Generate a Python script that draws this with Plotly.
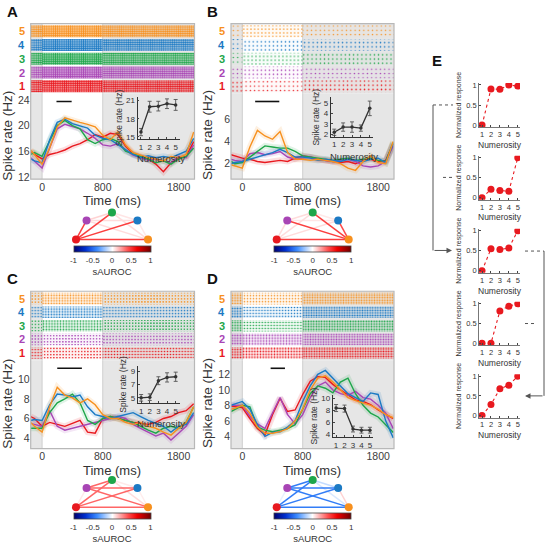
import numpy as np
import plotly.graph_objects as go
from plotly.colors import sample_colorscale, hex_to_rgb

W, H = 550, 545
FONT = "Arial, Liberation Sans, sans-serif"

# ---- data -------------------------------------------------------------
numerosity = [1, 2, 3, 4, 5]
num_colors = ["#e8191f", "#a845b5", "#1ea64a", "#1c7ac4", "#f7901e"]

time_ms = [-150, -100, 0, 100, 200, 300, 400, 500, 600, 700, 800, 900,
           1000, 1100, 1200, 1300, 1400, 1500, 1600, 1700, 1800, 1900, 2000]

# spike rate (Hz) per numerosity 1..5
rate_A = [
    [16.0, 15.5, 14.8, 15.5, 15.8, 16.2, 16.8, 17.2, 17.8, 18.6, 18.2, 18.8, 18.6, 16.8, 15.6, 15.2, 14.8, 14.0, 12.8, 14.2, 15.0, 15.2, 17.5],
    [15.0, 14.5, 13.4, 16.5, 19.5, 20.2, 19.8, 19.5, 18.8, 18.0, 17.0, 16.8, 17.2, 16.2, 15.4, 15.0, 14.6, 14.8, 14.5, 14.2, 15.2, 15.0, 17.0],
    [15.5, 15.8, 15.2, 17.5, 20.0, 20.8, 20.0, 19.5, 17.8, 17.2, 17.8, 18.0, 17.5, 16.0, 15.6, 15.2, 14.8, 14.2, 14.5, 14.0, 14.8, 15.2, 16.5],
    [14.8, 14.5, 14.2, 17.8, 20.5, 21.0, 20.3, 20.0, 19.6, 18.5, 18.0, 17.8, 17.0, 16.2, 15.5, 15.0, 15.3, 15.0, 15.2, 15.0, 15.5, 16.0, 18.0],
    [16.2, 15.5, 14.0, 16.5, 19.8, 21.2, 20.8, 20.5, 20.2, 19.8, 18.5, 17.8, 19.0, 17.0, 15.8, 15.4, 15.0, 14.8, 14.5, 15.2, 15.0, 15.5, 19.0],
]
rate_B = [
    [2.8, 2.7, 2.5, 2.4, 2.2, 2.1, 2.2, 2.3, 2.2, 2.5, 2.7, 2.6, 2.4, 2.3, 2.2, 2.1, 2.2, 2.0, 2.3, 2.4, 2.2, 2.3, 3.8],
    [2.4, 2.3, 2.2, 2.9, 3.0, 2.8, 2.9, 3.1, 2.6, 2.4, 2.5, 2.6, 2.4, 2.3, 2.2, 2.3, 2.4, 2.2, 1.8, 1.7, 1.8, 2.2, 3.6],
    [2.2, 2.0, 2.1, 2.6, 3.1, 3.6, 3.5, 3.4, 3.4, 3.1, 2.7, 2.6, 2.5, 2.4, 2.3, 2.4, 2.5, 2.3, 2.4, 2.5, 2.3, 2.2, 3.9],
    [2.0, 2.1, 2.2, 2.4, 2.6, 2.8, 3.0, 3.3, 3.0, 2.6, 2.6, 2.5, 2.3, 2.4, 2.3, 2.2, 2.4, 2.3, 2.2, 2.4, 2.5, 2.1, 3.8],
    [1.9, 1.8, 1.6, 3.5, 5.0, 4.5, 4.2, 4.9, 3.0, 2.4, 2.4, 2.3, 2.4, 2.3, 2.2, 2.0, 1.6, 1.4, 2.2, 2.7, 2.1, 2.0, 4.0],
]
rate_C = [
    [6.2, 6.0, 5.2, 5.6, 5.4, 5.2, 5.5, 5.8, 4.6, 4.5, 6.0, 6.2, 6.0, 5.8, 5.6, 5.5, 5.4, 5.6, 6.0, 6.2, 6.6, 6.8, 7.5],
    [5.5, 5.4, 5.2, 6.8, 5.2, 4.8, 5.0, 5.2, 5.4, 5.6, 5.8, 6.0, 6.2, 6.0, 5.4, 5.0, 4.6, 4.2, 4.5, 3.8, 4.5, 5.2, 6.4],
    [5.0, 5.0, 5.0, 6.6, 7.6, 8.0, 8.5, 7.6, 5.8, 5.4, 6.0, 6.2, 6.0, 5.8, 5.6, 5.2, 4.8, 4.5, 5.0, 5.2, 5.0, 5.6, 7.2],
    [5.8, 5.9, 5.8, 7.4, 8.5, 8.4, 8.2, 8.4, 7.2, 6.4, 6.2, 6.0, 6.2, 6.4, 6.6, 6.2, 5.8, 5.5, 5.2, 4.6, 5.2, 5.4, 6.6],
    [5.6, 5.2, 4.6, 7.2, 9.2, 8.4, 8.1, 7.6, 8.0, 7.4, 6.4, 6.0, 6.0, 5.6, 5.4, 5.6, 5.2, 5.0, 4.6, 4.3, 5.0, 5.6, 7.2],
]
rate_D = [
    [7.9, 7.8, 7.7, 6.3, 5.0, 4.2, 6.8, 8.9, 7.2, 7.4, 9.4, 11.1, 11.7, 11.6, 10.7, 10.0, 9.4, 8.7, 8.5, 8.1, 7.4, 6.8, 6.3],
    [8.0, 8.0, 8.0, 6.6, 5.6, 5.0, 7.0, 9.0, 6.8, 5.6, 6.8, 9.0, 10.5, 11.0, 10.0, 9.5, 9.3, 9.8, 9.0, 8.8, 8.0, 7.0, 5.0],
    [7.2, 7.5, 8.0, 7.8, 5.2, 4.8, 4.6, 4.8, 5.0, 5.5, 7.5, 9.5, 10.5, 10.2, 9.6, 11.0, 11.5, 9.5, 8.0, 7.0, 6.5, 5.5, 4.5],
    [8.0, 8.2, 8.5, 7.5, 5.5, 4.0, 4.5, 4.6, 5.2, 6.0, 8.5, 10.5, 12.0, 12.5, 11.5, 10.5, 9.5, 9.0, 8.5, 9.6, 9.4, 6.0, 3.8],
    [7.5, 7.6, 8.0, 7.0, 5.2, 4.4, 4.4, 4.6, 5.0, 6.0, 7.5, 10.0, 11.5, 11.8, 11.0, 10.0, 9.0, 8.6, 8.3, 8.0, 7.5, 6.8, 6.4],
]

# inset tuning curves (mean, error) in Hz
tuning_A = [15.8, 20.0, 20.1, 20.5, 20.3]
tuning_err_A = [0.6, 0.9, 0.8, 0.8, 0.9]
tuning_B = [2.2, 2.7, 2.7, 2.6, 4.5]
tuning_err_B = [0.3, 0.4, 0.5, 0.3, 0.7]
tuning_C = [5.0, 5.1, 7.6, 8.1, 8.2]
tuning_err_C = [0.5, 0.5, 0.6, 0.7, 0.7]
tuning_D = [8.4, 8.3, 4.8, 4.6, 4.6]
tuning_err_D = [0.6, 0.6, 0.5, 0.5, 0.5]

# significance windows (ms)
window_A = [190, 390]
window_B = [170, 490]
window_C = [200, 525]
window_D = [375, 565]

# sAUROC between numerosity pairs
pairs = [(0, 1), (0, 2), (0, 3), (0, 4), (1, 2), (1, 3), (1, 4), (2, 3), (2, 4), (3, 4)]
sauroc_A = [0.45, 0.45, 0.45, 0.45, 0.10, 0.08, 0.08, 0.06, 0.08, 0.05]
sauroc_B = [0.08, 0.08, 0.08, 0.45, 0.08, 0.06, 0.45, 0.05, 0.45, 0.42]
sauroc_C = [0.05, 0.35, 0.35, 0.35, 0.35, 0.35, 0.35, 0.05, 0.08, 0.04]
sauroc_D = [-0.05, -0.45, -0.45, -0.45, -0.45, -0.45, -0.45, -0.12, -0.08, 0.1]

# panel E normalized responses
norm_resp = [
    [0, 0.90, 0.89, 1.00, 0.97],
    [0, 0.21, 0.18, 0.16, 1.00],
    [0, 0.55, 0.53, 0.57, 1.00],
    [0, 0.00, 0.82, 0.94, 1.00],
    [0, 0.28, 0.68, 0.77, 1.00],
]

cmap = [[0, "#000070"], [0.15, "#0030d0"], [0.3, "#3c8cff"], [0.5, "#ffffff"],
        [0.7, "#ff5050"], [0.82, "#ee0000"], [1, "#700000"]]

GRAY_BG = "#e6e6e6"
T_LO, T_HI = -150, 2010

# ---- helpers ----------------------------------------------------------
layout = dict(width=W, height=H, margin=dict(l=0, r=0, t=0, b=0),
              paper_bgcolor="white", plot_bgcolor="rgba(0,0,0,0)",
              showlegend=False, barmode="overlay",
              font=dict(family=FONT, color="#333"))
shapes, annotations, traces = [], [], []
n_ax = [0]


def px(x):
    return x / W


def py(y):
    return 1 - y / H


def new_axes(xpx, ypx, xkw, ykw):
    n_ax[0] += 1
    s = "" if n_ax[0] == 1 else str(n_ax[0])
    base = dict(showgrid=False, zeroline=False)
    layout["xaxis" + s] = dict(base, domain=[px(xpx[0]), px(xpx[1])], anchor="y" + s, **xkw)
    layout["yaxis" + s] = dict(base, domain=[py(ypx[1]), py(ypx[0])], anchor="x" + s, **ykw)
    return "x" + s, "y" + s


def text(x, y, s, size, color="#222", **kw):
    annotations.append(dict(x=px(x), y=py(y), xref="paper", yref="paper", text=s,
                            showarrow=False, xanchor="center", yanchor="middle",
                            font=dict(size=size, family=FONT, color=color), **kw))


def rgba(hx, a):
    r, g, b = hex_to_rgb(hx)
    return f"rgba({r},{g},{b},{a:.3f})"


def shade(xa, ya):
    for a, b in [(T_LO, 0), (800, T_HI)]:
        shapes.append(dict(type="rect", xref=xa, yref=ya + " domain", x0=a, x1=b, y0=0, y1=1,
                           fillcolor=GRAY_BG, line_width=0, layer="below"))
    for a in (0, 800):
        shapes.append(dict(type="line", xref=xa, yref=ya + " domain", x0=a, x1=a, y0=0, y1=1,
                           line=dict(color="#cfcfcf", width=1), layer="below"))


panels = [
    dict(name="A", rates=rate_A, tune=tuning_A, err=tuning_err_A, win=window_A, auc=sauroc_A,
         x0=30.7, x1=194.5, top=22, mid=93, bot=179.5, yr=[11.65, 24.95], yt=[12, 16, 20, 24],
         ix=[137.5, 180], iy=[96, 139], ixr=[0.6, 5.5], iyr=[14.62, 21.65], iyt=[15, 18, 21],
         ixlab=159, cx=112, cy=240.7, tlab=200.7),
    dict(name="B", rates=rate_B, tune=tuning_B, err=tuning_err_B, win=window_B, auc=sauroc_B,
         x0=231, x1=394, top=22, mid=93, bot=179.5, yr=[0.6, 8.3], yt=[2, 4, 6],
         ix=[330.7, 373.3], iy=[96.7, 136.7], ixr=[0.6, 5.4], iyr=[1.75, 5.55], iyt=[2, 3, 4, 5],
         ixlab=157, cx=312.7, cy=240.7, tlab=200.7),
    dict(name="C", rates=rate_C, tune=tuning_C, err=tuning_err_C, win=window_C, auc=sauroc_C,
         x0=30.7, x1=194.5, top=293, mid=363, bot=452.5, yr=[2.91, 11.95], yt=[4, 6, 8, 10],
         ix=[137.7, 180], iy=[368.3, 406.5], ixr=[0.6, 5.5], iyr=[4.17, 9.9], iyt=[5, 7, 9],
         ixlab=427, cx=112, cy=511.7, tlab=474.5),
    dict(name="D", rates=rate_D, tune=tuning_D, err=tuning_err_D, win=window_D, auc=sauroc_D,
         x0=231, x1=394, top=293, mid=363, bot=452.5, yr=[2.41, 13.8], yt=[4, 6, 8, 10, 12],
         ix=[332.7, 373.3], iy=[398.3, 440.7], ixr=[0.6, 5.4], iyr=[3.43, 10.6], iyt=[4, 6, 8, 10],
         ixlab=None, cx=312.7, cy=511.7, tlab=474.5),
]

tick_font = dict(size=10.5, color="#404040", family=FONT)
small_font = dict(size=8, color="#333", family=FONT)
t_arr = np.array(time_ms)

for pi, p in enumerate(panels):
    # --- raster (dot texture density follows the epoch's mean rate)
    xr, yr_ = new_axes([p["x0"], p["x1"]], [p["top"], p["mid"]],
                       dict(range=[T_LO, T_HI], visible=False),
                       dict(range=[0.45, 5.55], visible=False))
    shade(xr, yr_)
    edges = [T_LO, 0, 800, T_HI]
    for k, col in zip(numerosity, num_colors):
        r = np.array(p["rates"][k - 1])
        cov = []
        for a, b in zip(edges[:-1], edges[1:]):
            m = r[(t_arr >= a) & (t_arr <= b)].mean()
            cov.append(float(np.clip(0.04 * m, 0.08, 0.7)))
        cell = [float(np.sqrt((1.5 + 2.5 * c) / c)) for c in cov]
        traces.append(go.Bar(
            y=[k] * 3, base=edges[:-1], x=list(np.diff(edges)), orientation="h", width=0.86,
            xaxis=xr, yaxis=yr_, hoverinfo="skip",
            marker=dict(color=col, line=dict(width=0),
                        pattern=dict(shape=".", fgcolor=col, size=cell, solidity=cov,
                                     bgcolor=[rgba(col, 0.3 * c) for c in cov],
                                     fillmode="replace"))))
        annotations.append(dict(x=px(p["x0"] - 4), y=k, xref="paper", yref=yr_, text=f"<b>{k}</b>",
                                showarrow=False, xanchor="right", yanchor="middle",
                                font=dict(size=11, color=col, family=FONT)))

    # --- spike rate
    xa, ya = new_axes([p["x0"], p["x1"]], [p["mid"], p["bot"]],
                      dict(range=[T_LO, T_HI], tickvals=[0, 800, 1800], ticks="",
                           tickfont=tick_font, showline=False),
                      dict(range=p["yr"], tickvals=p["yt"], ticks="", tickfont=tick_font,
                           showline=False))
    shade(xa, ya)
    for k, col in zip(numerosity, num_colors):
        traces.append(go.Scatter(x=time_ms, y=p["rates"][k - 1], mode="lines", xaxis=xa, yaxis=ya,
                                 line=dict(color=col, width=6),
                                 opacity=0.13, hoverinfo="skip"))
    for k, col in zip(numerosity, num_colors):
        traces.append(go.Scatter(x=time_ms, y=p["rates"][k - 1], mode="lines", xaxis=xa, yaxis=ya,
                                 line=dict(color=col, width=1.4)))
    shapes.append(dict(type="line", xref=xa, yref=ya + " domain", x0=p["win"][0], x1=p["win"][1],
                       y0=0.91, y1=0.91, line=dict(color="#111", width=1.6)))
    shapes.append(dict(type="rect", xref="paper", yref="paper", x0=px(p["x0"]), x1=px(p["x1"]),
                       y0=py(p["bot"]), y1=py(p["top"]), line=dict(color="#b8b8b8", width=1.2)))
    text(p["x0"] - 23.5, (p["mid"] + p["bot"]) / 2 - 1, "Spike rate (Hz)", 13.5, textangle=-90,
         color="#333")
    text((p["x0"] + p["x1"]) / 2 - 0.5, p["tlab"], "Time (ms)", 13, color="#333")
    text(p["x0"] - 18.5, p["top"] - 12.5, f"<b>{p['name']}</b>", 15, color="#111")

    # --- inset tuning curve
    xi, yi = new_axes(p["ix"], p["iy"],
                      dict(range=p["ixr"], tickvals=numerosity, ticks="inside", ticklen=2,
                           showline=True, linecolor="#333", linewidth=0.8, tickfont=small_font),
                      dict(range=p["iyr"], tickvals=p["iyt"], ticks="inside", ticklen=2,
                           showline=True, linecolor="#333", linewidth=0.8, tickfont=small_font,
                           title=dict(text="Spike rate (Hz)", font=dict(size=8.5, family=FONT),
                                      standoff=2)))
    if p["ixlab"]:
        text(sum(p["ix"]) / 2 + 2, p["ixlab"], "Numerosity", 9.5, color="#333")
    traces.append(go.Scatter(x=numerosity, y=p["tune"], xaxis=xi, yaxis=yi, mode="lines+markers",
                             line=dict(color="#333", width=1.3), marker=dict(size=3.5, color="#333"),
                             error_y=dict(type="data", array=p["err"], color="#555",
                                          thickness=0.9, width=2)))

    # --- sAUROC network
    xn, yn = new_axes([p["cx"] - 45, p["cx"] + 45], [p["cy"] - 33, p["cy"] + 6],
                      dict(range=[-45, 45], visible=False), dict(range=[-6, 33], visible=False))
    ang = np.deg2rad([180, 135, 90, 45, 0])
    nx_, ny_ = 36 * np.cos(ang), 27.4 * np.sin(ang)
    order = np.argsort(np.abs(p["auc"]))
    for e in order:
        i, j = pairs[e]
        v = p["auc"][e]
        c = sample_colorscale(cmap, [(v + 1) / 2])[0]
        traces.append(go.Scatter(x=[nx_[i], nx_[j]], y=[ny_[i], ny_[j]], mode="lines",
                                 xaxis=xn, yaxis=yn, line=dict(color=c, width=1.5),
                                 hoverinfo="skip"))
    traces.append(go.Scatter(x=nx_, y=ny_, mode="markers", xaxis=xn, yaxis=yn,
                             marker=dict(size=8, color=num_colors)))
    ca = "coloraxis" if pi == 0 else f"coloraxis{pi + 1}"
    layout[ca] = dict(colorscale=cmap, cmin=-1, cmax=1, colorbar=dict(
        orientation="h", x=px(p["cx"]), xanchor="center", y=py(p["cy"] + 6), yanchor="top",
        len=77, lenmode="pixels", thickness=5.5, xpad=0, ypad=0,
        outlinewidth=0.8, outlinecolor="#444", ticks="",
        tickvals=[-1, -0.5, 0, 0.5, 1], ticktext=["-1", "-0.5", "0", "0.5", "1"],
        tickfont=dict(size=8, family=FONT, color="#333"),
        title=dict(text="sAUROC", side="bottom", font=dict(size=9.5, family=FONT, color="#333"))))
    traces.append(go.Scatter(x=[0, 0], y=[-100, -100], mode="markers", xaxis=xn, yaxis=yn,
                             marker=dict(color=[-1, 1], coloraxis=ca, size=1, opacity=0),
                             hoverinfo="skip"))

# ---- panel E ----------------------------------------------------------
text(437, 59, "<b>E</b>", 15, color="#111")
e_rows = [(84, 124.7), (157.7, 198.3), (231.7, 272.3), (305.7, 345.7), (379, 419)]
for resp, (p1, p0) in zip(norm_resp, e_rows):
    sc = p0 - p1
    xe, ye = new_axes([479, 520], [p1 - 0.05 * sc, p0 + 0.05 * sc],
                      dict(range=[0.66, 5.25], tickvals=numerosity, ticks="inside", ticklen=2,
                           showline=True, linecolor="#777", linewidth=0.8,
                           tickfont=dict(size=7.5, family=FONT, color="#333")),
                      dict(range=[-0.05, 1.05], tickvals=[0, 0.5, 1], ticktext=["0", "0.5", "1"],
                           ticks="inside", ticklen=2, showline=True, linecolor="#777", linewidth=0.8,
                           tickfont=dict(size=7.5, family=FONT, color="#333"),
                           title=dict(text="Normalized response", font=dict(size=7, family=FONT),
                                      standoff=3)))
    text(500, p0 + 20, "Numerosity", 8.5, color="#333")
    traces.append(go.Scatter(x=numerosity, y=resp, xaxis=xe, yaxis=ye, mode="lines+markers",
                             line=dict(color="#e8191f", width=1.1, dash="dot"),
                             marker=dict(size=7, color="#e8191f")))

# dendrogram-like brackets
def seg(x0, y0, x1, y1, dash="solid"):
    shapes.append(dict(type="line", xref="paper", yref="paper", x0=px(x0), y0=py(y0),
                       x1=px(x1), y1=py(y1), line=dict(color="#555", width=1, dash=dash)))


def arrow(xh, yh, dx):
    annotations.append(dict(x=px(xh), y=py(yh), xref="paper", yref="paper", ax=dx, ay=0,
                            text="", showarrow=True, arrowhead=2, arrowsize=1.1,
                            arrowwidth=1, arrowcolor="#555"))


seg(433, 104.3, 453, 104.3, "dot")
seg(443, 177.7, 453, 177.7, "dot")
seg(433, 104.3, 433, 251.7)
arrow(452, 251.7, -19)
seg(525, 252.3, 544, 252.3, "dot")
seg(525, 325.7, 535, 325.7, "dot")
seg(544, 252.3, 544, 399)
arrow(525, 399, 19)

layout["shapes"] = shapes
layout["annotations"] = annotations
fig = go.Figure(data=traces, layout=layout)
fig.write_html("out.html", config={"displayModeBar": False},
               post_script="document.body.style.margin='0';")
